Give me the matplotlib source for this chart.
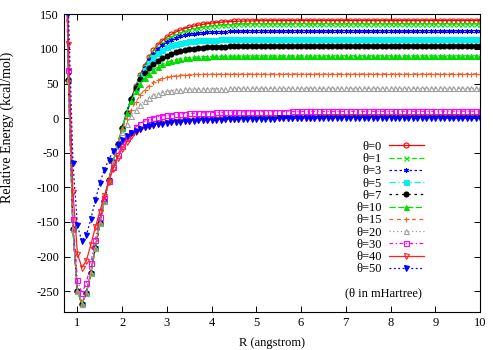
import matplotlib
matplotlib.use('Agg')
import matplotlib.pyplot as plt
import numpy as np

plt.rcParams['font.family'] = ['Liberation Serif', 'DejaVu Serif']
plt.rcParams['axes.unicode_minus'] = False
plt.rcParams['font.size'] = 9

# bond length grid, 0.7 .. 10.0 angstrom
R = np.round(np.arange(0.7, 10.05, 0.1), 1)

theta_labels = ['θ=0', 'θ=1', 'θ=3', 'θ=5', 'θ=7', 'θ=10', 'θ=15', 'θ=20', 'θ=30', 'θ=40', 'θ=50']

# relative energies (kcal/mol)
e0 = [480, 55, -160, -250, -268, -253, -224, -188, -152, -120,
      -90, -63, -38, -14, 8, 28, 46, 62, 76, 88,
      98, 106, 112, 117, 121, 124.5, 127, 129.5, 131.3, 133,
      134.3, 135.5, 136.5, 137.3, 138, 138.6, 139.1, 139.5, 139.8, 140.1,
      140.3, 140.5, 140.6, 140.7,
      140.8, 140.8, 140.9, 140.9, 140.9, 141, 141, 141, 141, 141,
      141, 141, 141, 141, 141, 141, 141, 141, 141, 141,
      141, 141, 141, 141, 141, 141, 141, 141, 141, 141,
      141, 141, 141, 141, 141, 141, 141, 141, 141, 141,
      141, 141, 141, 141, 141, 141, 141, 141, 141, 141]
e1 = [480, 55, -160, -250, -268, -253, -224, -188, -152, -120,
      -90, -63, -38, -14, 8, 28, 46, 61, 75, 87,
      96, 103, 109, 114, 117.5, 120.5, 123, 125.3, 127.2, 128.8,
      130, 131.2, 132.2, 133, 133.6, 134.1, 134.5, 134.9, 135.2, 135.4,
      135.6, 135.7, 135.8, 135.9,
      136, 136, 136, 136, 136, 136, 136, 136, 136, 136,
      136, 136, 136, 136, 136, 136, 136, 136, 136, 136,
      136, 136, 136, 136, 136, 136, 136, 136, 136, 136,
      136, 136, 136, 136, 136, 136, 136, 136, 136, 136,
      136, 136, 136, 136, 136, 136, 136, 136, 136, 136]
e3 = [480, 55, -160, -250, -268, -253, -224, -188, -152, -120,
      -90, -63, -38, -14, 8, 28, 45, 60, 73, 84,
      93, 100, 105.5, 110, 113.3, 116, 118, 119.7, 121, 122,
      122.8, 123.4, 123.9, 124.3, 124.6, 124.9, 125.1, 125.3, 125.5, 125.6,
      125.7, 125.8, 125.9, 126,
      126, 126, 126, 126, 126, 126, 126, 126, 126, 126,
      126, 126, 126, 126, 126, 126, 126, 126, 126, 126,
      126, 126, 126, 126, 126, 126, 126, 126, 126, 126,
      126, 126, 126, 126, 126, 126, 126, 126, 126, 126,
      126, 126, 126, 126, 126, 126, 126, 126, 126, 126]
e5 = [480, 55, -160, -250, -268, -253, -224, -188, -152, -120,
      -90, -63, -38, -14, 8, 27, 44, 58, 70, 80,
      88, 94, 99, 102.5, 105.3, 107.3, 108.8, 110, 111, 111.7,
      112.3, 112.8, 113.1, 113.4, 113.6, 113.8, 114, 114.1, 114.2, 114.3,
      114.4, 114.4, 114.5, 114.5,
      114.5, 114.5, 114.5, 114.5, 114.5, 114.5, 114.5, 114.5, 114.5, 114.5,
      114.5, 114.5, 114.5, 114.5, 114.5, 114.5, 114.5, 114.5, 114.5, 114.5,
      114.5, 114.5, 114.5, 114.5, 114.5, 114.5, 114.5, 114.5, 114.5, 114.5,
      114.5, 114.5, 114.5, 114.5, 114.5, 114.5, 114.5, 114.5, 114.5, 114.5,
      114.5, 114.5, 114.5, 114.5, 114.5, 114.5, 114.5, 114.5, 114.5, 114.5]
e7 = [480, 55, -160, -250, -268, -253, -224, -188, -152, -120,
      -90, -63, -38, -14, 8, 27, 43, 56, 65, 72,
      78, 83, 87, 90.5, 93, 95.2, 97, 98.4, 99.6, 100.6,
      101.3, 101.9, 102.4, 102.8, 103.1, 103.3, 103.5, 103.6, 103.7, 103.8,
      103.9, 103.9, 104, 104,
      104, 104, 104, 104, 104, 104, 104, 104, 104, 104,
      104, 104, 104, 104, 104, 104, 104, 104, 104, 104,
      104, 104, 104, 104, 104, 104, 104, 104, 104, 104,
      104, 104, 104, 104, 104, 104, 104, 104, 104, 104,
      104, 104, 104, 104, 104, 104, 104, 104, 104, 104]
e10 = [480, 55, -160, -250, -268, -253, -224, -188, -152, -120,
       -90, -63, -38, -14, 7, 25, 39, 50, 58, 64.5,
       70, 74.5, 78, 80.8, 83, 84.6, 85.8, 86.7, 87.4, 87.9,
       88.3, 88.6, 88.9, 89.1, 89.3, 89.4, 89.5, 89.6, 89.7, 89.8,
       89.8, 89.9, 89.9, 90,
       90, 90, 90, 90, 90, 90, 90, 90, 90, 90,
       90, 90, 90, 90, 90, 90, 90, 90, 90, 90,
       90, 90, 90, 90, 90, 90, 90, 90, 90, 90,
       90, 90, 90, 90, 90, 90, 90, 90, 90, 90,
       90, 90, 90, 90, 90, 90, 90, 90, 90, 90]
e15 = [480, 55, -160, -250, -268, -253, -224, -188, -152, -120,
       -90, -63, -39, -16, -1, 12, 23, 33, 41, 47,
       51.5, 55, 57.5, 59, 60.3, 61.2, 61.9, 62.4, 62.8, 63.1,
       63.3, 63.5, 63.6, 63.7, 63.8, 63.8, 63.9, 63.9, 64, 64,
       64, 64, 64, 64,
       64, 64, 64, 64, 64, 64, 64, 64, 64, 64,
       64, 64, 64, 64, 64, 64, 64, 64, 64, 64,
       64, 64, 64, 64, 64, 64, 64, 64, 64, 64,
       64, 64, 64, 64, 64, 64, 64, 64, 64, 64,
       64, 64, 64, 64, 64, 64, 64, 64, 64, 64]
e20 = [480, 55, -160, -250, -268, -253, -224, -188, -152, -120,
       -90, -64, -40, -20, -8, 3, 12, 19.5, 25, 29.5,
       33, 35.5, 37.3, 38.7, 39.7, 40.4, 41, 41.4, 41.8, 42,
       42.2, 42.4, 42.5, 42.6, 42.7, 42.8, 42.8, 42.9, 42.9, 43,
       43, 43, 43, 43,
       43, 43, 43, 43, 43, 43, 43, 43, 43, 43,
       43, 43, 43, 43, 43, 43, 43, 43, 43, 43,
       43, 43, 43, 43, 43, 43, 43, 43, 43, 43,
       43, 43, 43, 43, 43, 43, 43, 43, 43, 43,
       43, 43, 43, 43, 43, 43, 43, 43, 43, 43]
e30 = [300, 70, -146, -234, -253, -238, -210, -176, -143, -115,
       -91, -71, -54, -40, -29, -20, -13, -8, -4.5, -1.5,
       0.5, 2, 3.3, 4.3, 5, 5.6, 6.1, 6.5, 6.9, 7.2,
       7.5, 7.7, 7.9, 8.1, 8.3, 8.4, 8.6, 8.7, 8.8, 8.9,
       9, 9.1, 9.2, 9.2,
       9.3, 9.3, 9.4, 9.4, 9.5, 9.5, 9.5, 9.6, 9.6, 9.6,
       9.7, 9.7, 9.7, 9.7, 9.7, 9.7, 9.7, 9.7, 9.7, 9.7,
       9.8, 9.8, 9.8, 9.8, 9.8, 9.8, 9.8, 9.8, 9.8, 9.8,
       9.9, 9.9, 9.9, 9.9, 9.9, 9.9, 9.9, 9.9, 9.9, 9.9,
       10, 10, 10, 10, 10, 10, 10, 10, 10, 10]
e40 = [350, 107, -107, -196, -216, -206, -183, -158, -135, -113,
       -92, -73, -57, -44, -34, -26, -20, -16, -13, -11,
       -9.5, -8.3, -7.3, -6.5, -5.8, -5.2, -4.7, -4.2, -3.8, -3.4,
       -3, -2.7, -2.4, -2.1, -1.8, -1.5, -1.2, -1, -0.8, -0.6,
       -0.4, -0.3, -0.1, 0,
       0.1, 0.2, 0.3, 0.4, 0.5, 0.5, 0.6, 0.7, 0.7, 0.8,
       0.8, 0.9, 0.9, 1, 1, 1, 1.1, 1.1, 1.1, 1.2,
       1.2, 1.2, 1.2, 1.2, 1.2, 1.2, 1.2, 1.2, 1.2, 1.2,
       1.3, 1.3, 1.3, 1.3, 1.3, 1.3, 1.3, 1.3, 1.3, 1.3,
       1.4, 1.4, 1.4, 1.4, 1.4, 1.5, 1.5, 1.5, 1.5, 1.5]
e50 = [420, 152, -65, -155, -178, -169, -146, -119, -94, -75,
       -60, -48, -39, -32, -26, -22, -18.5, -15.5, -13.3, -11.5,
       -10, -8.8, -7.8, -7, -6.3, -5.7, -5.1, -4.6, -4.1, -3.7,
       -3.3, -3, -2.7, -2.4, -2.2, -2, -1.8, -1.6, -1.4, -1.3,
       -1.1, -1, -0.9, -0.8,
       -0.7, -0.7, -0.6, -0.6, -0.5, -0.5, -0.5, -0.4, -0.4, -0.4,
       -0.3, -0.3, -0.3, -0.3, -0.3, -0.3, -0.3, -0.3, -0.3, -0.3,
       -0.2, -0.2, -0.2, -0.2, -0.2, -0.2, -0.2, -0.2, -0.2, -0.2,
       -0.1, -0.1, -0.1, -0.1, -0.1, -0.1, -0.1, -0.1, -0.1, -0.1,
       0, 0, 0, 0, 0, 0, 0, 0, 0, 0]

series = [e0, e1, e3, e5, e7, e10, e15, e20, e30, e40, e50]

# gnuplot-ish styles: colour, dash, marker, filled marker
styles = [
    ('#ff0000', '-', 'o', False),
    ('#00ee00', (0, (4, 2)), 'x', True),
    ('#0000ff', (0, (2, 2)), (6, 2, 0), True),
    ('#00f0f0', (0, (5, 2, 1, 2)), 's', True),
    ('#000000', (0, (2, 3)), 'o', True),
    ('#00dd00', (0, (5, 2)), '^', True),
    ('#ff5a1f', (0, (3, 3)), '+', True),
    ('#a0a0a0', (0, (1, 2)), '^', False),
    ('#ff00ff', (0, (3, 2, 1, 2)), 's', False),
    ('#ff2020', '-', 'v', False),
    ('#0000ff', (0, (1.5, 2)), 'v', True),
]

fig = plt.figure(figsize=(5, 3.5), dpi=100)
ax = fig.add_axes([0.128, 0.109, 0.832, 0.85])

for vals, lab, (c, ls, mk, filled) in zip(series, theta_labels, styles):
    ax.plot(R, vals, color=c, linestyle=ls, linewidth=0.9,
            marker=mk, markersize=3.6, markeredgewidth=0.8,
            markerfacecolor=c if filled else 'none', markeredgecolor=c,
            label=lab)

ax.set_xlim(0.7, 10)
ax.set_ylim(-280, 150)
ax.set_xticks(range(1, 11))
ax.set_yticks(range(-250, 151, 50))
ax.tick_params(direction='in', top=True, right=True, length=4, width=0.7, labelsize=9)
for sp in ax.spines.values():
    sp.set_linewidth(0.8)

ax.set_xlabel('R (angstrom)', fontsize=9, labelpad=6)
ax.set_ylabel('Relative Energy (kcal/mol)', fontsize=10)
ax.yaxis.set_label_coords(-0.12, 0.62)

leg = ax.legend(loc='upper right', bbox_to_anchor=(0.865, 0.575), frameon=False,
                markerfirst=False, fontsize=9, handlelength=2.8, handletextpad=0.55,
                labelspacing=0.02, borderpad=0, borderaxespad=0)
ax.text(0.767, 0.064, '(θ in mHartree)', transform=ax.transAxes,
        ha='center', va='center', fontsize=9)

fig.savefig('out.png', dpi=100)
